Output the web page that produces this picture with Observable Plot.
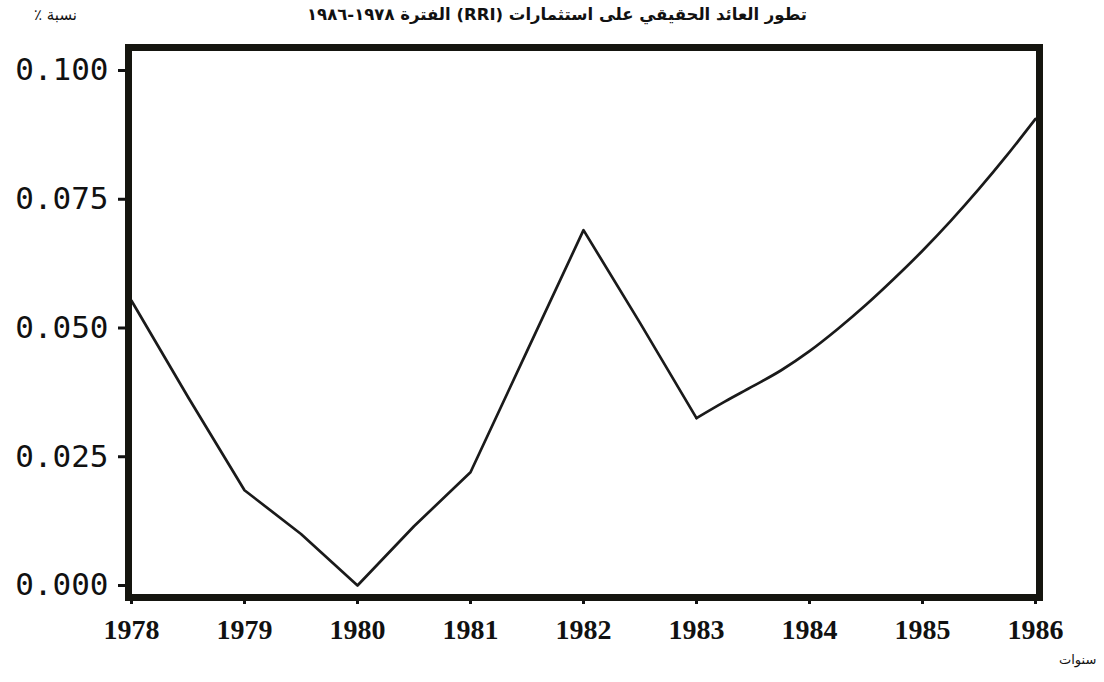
<!DOCTYPE html>
<html>
<head>
<meta charset="utf-8">
<script src="https://cdn.jsdelivr.net/npm/d3@7"></script>
<script src="https://cdn.jsdelivr.net/npm/@observablehq/plot@0.6"></script>
<style>
  html, body { margin: 0; padding: 0; background: #fff; }
  #wrap { position: relative; width: 1104px; height: 682px; overflow: hidden; }
  .ar { position: absolute; direction: rtl; font-family: "DejaVu Sans", sans-serif; color: #111; white-space: nowrap; }
  #title { top: 5px; left: 0; width: 1114px; text-align: center; font-size: 16.5px; font-weight: bold; }
  #ylab { top: 6px; left: 34px; font-size: 15px; }
  #xlab { top: 652px; left: 1059px; font-size: 13px; }
</style>
</head>
<body>
<div id="wrap">
  <div id="title" class="ar">تطور العائد الحقيقي على استثمارات (RRI) الفترة ١٩٧٨-١٩٨٦</div>
  <div id="ylab" class="ar">نسبة ٪</div>
  <div id="xlab" class="ar">سنوات</div>
</div>
<script>
// Values (x in years, y as rate)
// Part 1: 1978–1983 (straight segments with sharp turns)
const years1 = [1978, 1978.5, 1979, 1979.5, 1980, 1980.5, 1981, 1981.5, 1982, 1982.5, 1983];
const rri1   = [0.0553, 0.0366, 0.0185, 0.0100, 0.0000, 0.0115, 0.0220, 0.0455, 0.0690, 0.0510, 0.0325];
// Part 2: 1983–1986 (smooth rising curve)
const years2 = [1983, 1983.25, 1983.5, 1983.75, 1984, 1984.25, 1984.5, 1984.75, 1985, 1985.25, 1985.5, 1985.75, 1986];
const rri2   = [0.0325, 0.0357, 0.0387, 0.0418, 0.0455, 0.0498, 0.0545, 0.0596, 0.0650, 0.0708, 0.0770, 0.0836, 0.0906];
const xTicks = [1978, 1979, 1980, 1981, 1982, 1983, 1984, 1985, 1986];
const yTicks = [0, 0.025, 0.05, 0.075, 0.1];

const data1 = years1.map((yr, i) => ({year: yr, value: rri1[i]}));
const data2 = years2.map((yr, i) => ({year: yr, value: rri2[i]}));

const chart = Plot.plot({
  width: 1104,
  height: 682,
  marginLeft: 128,
  marginRight: 65,
  marginTop: 47,
  marginBottom: 85,
  style: {background: "transparent", color: "#111"},
  x: {domain: [1978, 1986], insetLeft: 3, insetRight: 4},
  y: {domain: [0, 0.1], insetTop: 23, insetBottom: 12},
  marks: [
    Plot.axisY({
      ticks: yTicks,
      tickFormat: d => d.toFixed(3),
      tickSize: 10,
      tickPadding: 10,
      strokeWidth: 3,
      stroke: "#111",
      fill: "#111",
      fontFamily: "DejaVu Sans Mono",
      fontSize: 31,
      label: null
    }),
    Plot.axisX({
      ticks: xTicks,
      tickFormat: d => String(d),
      tickSize: 7,
      tickPadding: 15,
      strokeWidth: 3,
      stroke: "#111",
      fill: "#111",
      fontFamily: "Liberation Serif",
      fontWeight: "bold",
      fontSize: 28,
      label: null
    }),
    Plot.line(data1, {x: "year", y: "value", stroke: "#1a1a1a", strokeWidth: 2.7}),
    Plot.line(data2, {x: "year", y: "value", stroke: "#1a1a1a", strokeWidth: 2.7, curve: "catmull-rom"}),
    Plot.frame({stroke: "#15150f", strokeWidth: 7})
  ]
});
document.getElementById("wrap").prepend(chart);
chart.style.position = "absolute";
chart.style.left = "0";
chart.style.top = "0";
</script>
</body>
</html>
